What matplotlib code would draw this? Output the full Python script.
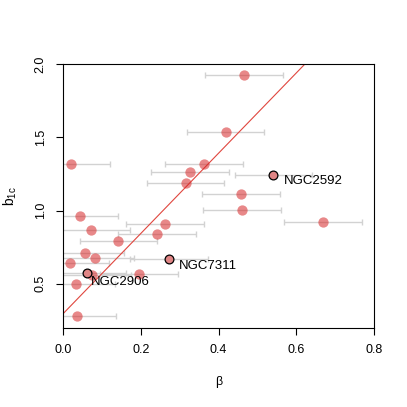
import matplotlib
matplotlib.use("Agg")
import matplotlib.pyplot as plt
import numpy as np

# beta vs b_1c, with horizontal errors on beta
beta = [0.466, 0.418, 0.020, 0.3615, 0.326, 0.315, 0.457, 0.460, 0.668,
        0.042, 0.262, 0.0705, 0.242, 0.142, 0.056, 0.081, 0.018, 0.075,
        0.195, 0.0335, 0.035]
b1c = [1.925, 1.533, 1.315, 1.319, 1.260, 1.187, 1.112, 1.005, 0.919,
       0.962, 0.909, 0.866, 0.841, 0.789, 0.713, 0.679, 0.639, 0.563,
       0.567, 0.501, 0.278]
beta_err = [0.1] * len(beta)

# highlighted galaxies
names = ["NGC2592", "NGC7311", "NGC2906"]
name_beta = [0.541, 0.272, 0.062]
name_b1c = [1.242, 0.668, 0.574]
name_err = [0.1, 0.1, 0.1]
label_offsets = [(7.2, -4.3), (7.2, -4.8), (2.2, -6.5)]

# fitted line
fit_a = 0.297
fit_b = 2.737

plt.rcdefaults()
plt.rcParams.update({
    "font.family": ["Liberation Sans", "DejaVu Sans"],
    "font.size": 9,
    "mathtext.default": "regular",
})

fig = plt.figure(figsize=(4.07, 4.07), dpi=100)
ax = fig.add_axes([0.1555, 0.1948, 0.919 - 0.1555, 0.8428 - 0.1948])

ax.errorbar(beta, b1c, xerr=beta_err, fmt="none", ecolor="#d2d2d2",
            elinewidth=1.0, capsize=2.2, capthick=1.0, zorder=1)
ax.errorbar(name_beta, name_b1c, xerr=name_err, fmt="none", ecolor="#d2d2d2",
            elinewidth=1.0, capsize=2.2, capthick=1.0, zorder=1)

ax.axline((0, fit_a), slope=fit_b, color="#e0463e", lw=0.8, zorder=2)

ax.scatter(beta, b1c, s=55, color="#d62728", alpha=0.55, linewidths=0, zorder=3)
ax.scatter(name_beta, name_b1c, s=40, facecolor="#e08585", edgecolor="black",
           linewidths=0.9, zorder=4)

for nm, x, y, off in zip(names, name_beta, name_b1c, label_offsets):
    ax.annotate(nm, (x, y), xytext=off, textcoords="offset points",
                ha="left", va="center", fontsize=9.5, zorder=5)

ax.set_xlim(0, 0.8)
ax.set_ylim(0.2, 2.0)
ax.set_xticks([0.0, 0.2, 0.4, 0.6, 0.8])
ax.set_yticks([0.5, 1.0, 1.5, 2.0])
ax.set_xticklabels(["0.0", "0.2", "0.4", "0.6", "0.8"])
ax.set_yticklabels(["0.5", "1.0", "1.5", "2.0"], rotation=90, va="center")
ax.tick_params(direction="out", length=5, width=0.8, pad=7)

for s in ax.spines.values():
    s.set_linewidth(0.8)

ax.set_xlabel("β", labelpad=14)
ax.set_ylabel("$b_{1c}$", labelpad=11, fontsize=10)

fig.savefig("out.png", dpi=100)
